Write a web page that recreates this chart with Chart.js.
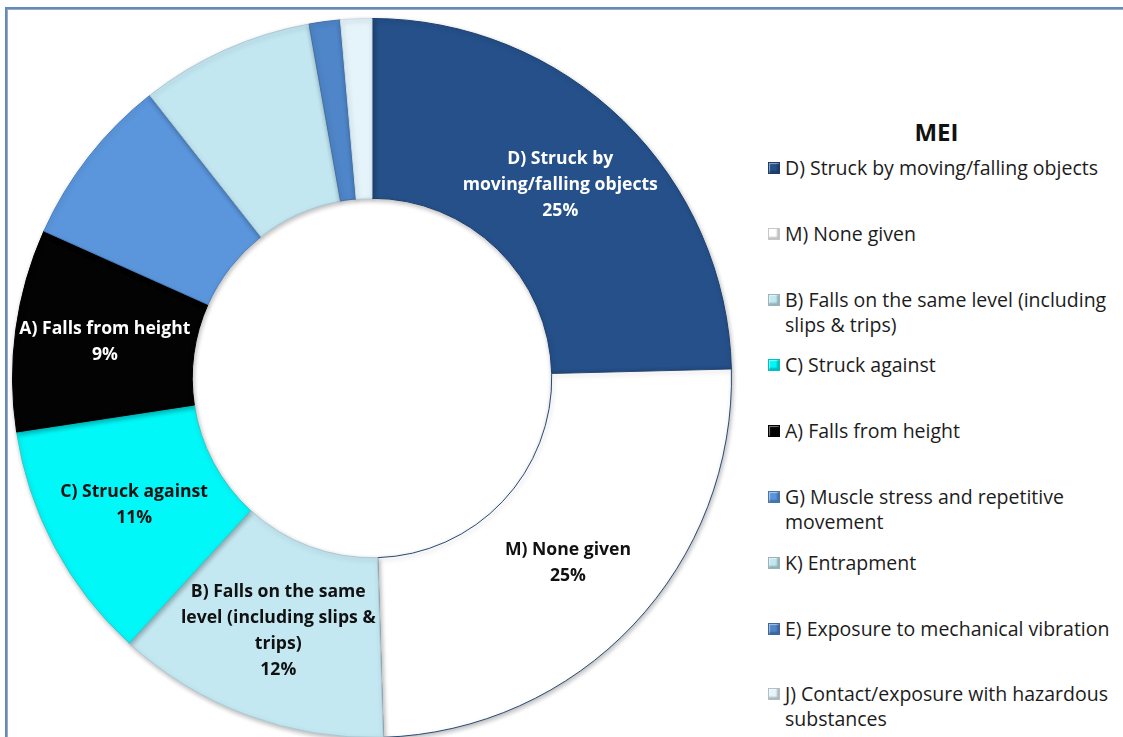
<!DOCTYPE html>
<html>
<head>
<meta charset="utf-8">
<script src="https://cdn.jsdelivr.net/npm/chart.js@4.4.1/dist/chart.umd.min.js"></script>
<style>
  html, body { margin: 0; padding: 0; width: 1123px; height: 737px; overflow: hidden; background: #fff; }
  body { font-family: "Open Sans", sans-serif; position: relative; }
  #frame {
    position: absolute; left: 5px; top: 7px; width: 1300px; height: 900px;
    border-left: 2px solid #5b8bc9; border-top: 2px solid #5b8bc9;
    box-shadow: inset 1px 1px 0 #a9a9a9;
  }
  #chart { position: absolute; left: 0; top: 0; }
  #legendTitle {
    position: absolute; left: 764px; width: 345px; top: 115px;
    text-align: center; font-weight: bold; font-size: 24px; color: #111;
  }
  .leg-item { position: absolute; left: 768px; width: 355px; font-size: 19.5px; line-height: 25px; color: #1c1c1c; }
  .leg-item .box {
    position: absolute; left: 0; top: 7px; width: 10px; height: 10px;
    border: 1px solid rgba(0,0,0,0.22);
    box-shadow: inset -2px -2px 2px rgba(0,0,0,0.25), inset 1px 1px 1px rgba(255,255,255,0.5);
  }
  .leg-item .txt { position: absolute; left: 17px; width: 340px; }
</style>
</head>
<body>
<div id="frame"></div>
<canvas id="chart" width="744" height="756"></canvas>
<div id="legendTitle">MEI</div>
<div id="legend"></div>
<script>
const categories = [
  "D) Struck by moving/falling objects",
  "M) None given",
  "B) Falls on the same level (including slips & trips)",
  "C) Struck against",
  "A) Falls from height",
  "G) Muscle stress and repetitive movement",
  "K) Entrapment",
  "E) Exposure to mechanical vibration",
  "J) Contact/exposure with hazardous substances"
];
// share of reports per mechanism, percent
const shares = [24.6, 24.9, 12.3, 10.8, 9.1, 7.7, 7.8, 1.4, 1.4];
const colors = ["#25508a", "#ffffff", "#c4e8f2", "#00f8f8", "#030303", "#5b96dd", "#c2e7f1", "#4f86c9", "#e4f4fa"];
const edgeColors = ["#1d3f6e", "#2b4a73", "#a9c9d3", "#33c9c9", "#000000", "#4a7fc0", "#a9c9d3", "#3f6fa8", "#c9dde4"];

const $ = (id) => document.getElementById(id);

function isDark(hex) {
  const n = parseInt(hex.slice(1), 16);
  const r = n >> 16, g = (n >> 8) & 255, b = n & 255;
  return (0.299 * r + 0.587 * g + 0.114 * b) < 110;
}

function wrap(ctx, text, maxWidth) {
  const words = text.split(" ");
  const lines = [];
  let line = "";
  words.forEach((w) => {
    const test = line ? line + " " + w : w;
    if (line && ctx.measureText(test).width > maxWidth) {
      lines.push(line);
      line = w;
    } else {
      line = test;
    }
  });
  if (line) lines.push(line);
  return lines;
}

// soft drop shadow under the ring
const ringShadow = {
  id: "ringShadow",
  beforeDatasetsDraw(chart) {
    const ctx = chart.ctx;
    ctx.save();
    ctx.shadowColor = "rgba(0,0,0,0.28)";
    ctx.shadowBlur = 5;
    ctx.shadowOffsetX = 1;
    ctx.shadowOffsetY = 2;
  },
  afterDatasetsDraw(chart) {
    chart.ctx.restore();
  }
};

// category name + percentage inside the larger slices
const sliceLabels = {
  id: "sliceLabels",
  afterDatasetsDraw(chart) {
    const ctx = chart.ctx;
    const meta = chart.getDatasetMeta(0);
    const total = shares.reduce((a, b) => a + b, 0);
    ctx.save();
    ctx.font = 'bold 17.6px "Open Sans", sans-serif';
    ctx.textAlign = "center";
    ctx.textBaseline = "middle";
    meta.data.forEach((arc, i) => {
      const pct = Math.round(shares[i] / total * 100);
      if (pct < 9) return;
      const lines = wrap(ctx, categories[i], 212);
      lines.push(pct + "%");
      const p = arc.getCenterPoint();
      const lh = 26;
      const y0 = p.y - (lines.length - 1) * lh / 2;
      ctx.fillStyle = isDark(colors[i]) ? "#ffffff" : "#111111";
      lines.forEach((l, k) => ctx.fillText(l, p.x, y0 + k * lh));
    });
    ctx.restore();
  }
};

function buildLegend() {
  const legend = $("legend");
  categories.forEach((name, i) => {
    const item = document.createElement("div");
    item.className = "leg-item";
    item.style.top = (155 + i * 65.8) + "px";
    item.innerHTML = `
      <span class="box" style="background: ${colors[i]};"></span>
      <span class="txt">${name.replace("&", "&amp;")}</span>
    `;
    legend.appendChild(item);
  });
}

document.addEventListener("DOMContentLoaded", () => {
  buildLegend();

  new Chart($("chart"), {
    type: "doughnut",
    data: {
      labels: categories,
      datasets: [{
        data: shares,
        backgroundColor: colors,
        borderColor: edgeColors,
        borderWidth: 1
      }]
    },
    options: {
      responsive: false,
      devicePixelRatio: 1,
      animation: false,
      cutout: "50%",
      layout: { padding: { left: 12, right: 12, top: 18, bottom: 18 } },
      plugins: {
        legend: { display: false },
        tooltip: { enabled: false }
      }
    },
    plugins: [ringShadow, sliceLabels]
  });
});
</script>
</body>
</html>
